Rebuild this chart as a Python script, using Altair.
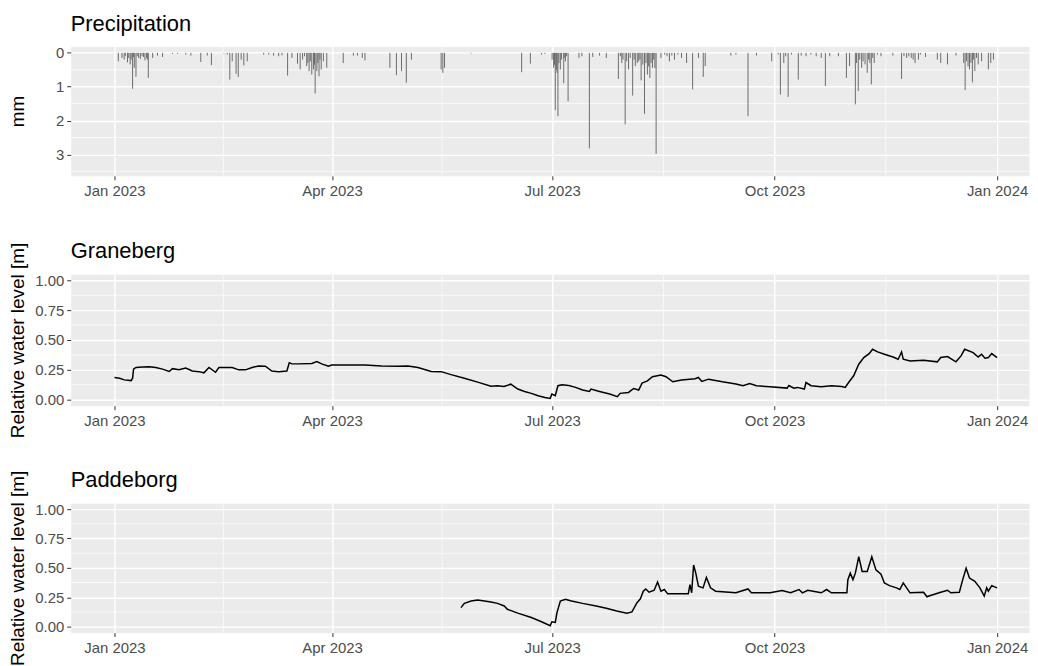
import altair as alt
import pandas as pd

# ---------------- data (days after 2023-01-01) ----------------
prec_day = [1.6, 3.1, 4.0, 4.5, 5.4, 5.9, 6.5, 6.9, 7.5, 7.9, 8.2, 8.9, 9.4, 10.0, 10.7, 11.4, 12.0, 12.6,
            13.3, 13.6, 14.0, 15.8, 17.8, 19.9, 24.0, 26.1, 29.5, 31.6, 35.7, 38.4, 40.1, 45.3, 46.6, 47.7,
            48.7, 50.3, 51.2, 52.4, 53.5, 54.9, 61.7, 63.8, 65.8, 67.9, 69.3, 71.6, 73.4, 75.7, 76.8, 77.8,
            78.6, 79.5, 80.0, 80.5, 81.0, 81.6, 82.3, 82.7, 83.0, 83.7, 84.1, 84.6, 85.0, 85.5, 86.4, 87.8,
            94.6, 98.8, 100.5, 102.5, 103.6, 113.9, 116.6, 118.7, 120.7, 122.8, 135.1, 135.8, 136.5, 147.5,
            168.4, 172.0, 176.6, 178.0, 181.0, 181.6, 182.0, 182.3, 182.7, 183.0, 183.4, 183.8, 184.4, 184.9,
            185.8, 186.0, 186.5, 187.0, 187.6, 192.1, 193.3, 196.4, 197.8, 200.6, 203.4, 208.4, 209.2, 209.8,
            210.3, 211.2, 211.8, 212.6, 213.3, 214.3, 214.9, 215.4, 216.2, 216.8, 217.3, 217.8, 218.5, 219.2,
            219.8, 220.4, 220.9, 221.4, 221.9, 222.5, 223.0, 223.5, 224.0, 226.0, 227.5, 228.5, 229.5, 230.5,
            231.6, 233.0, 234.5, 236.6, 239.1, 241.5, 243.5, 244.3, 254.9, 257.0, 262.0, 265.5, 271.8, 274.5,
            275.4, 276.8, 277.6, 278.6, 280.0, 282.8, 284.0, 286.0, 288.0, 290.2, 292.3, 294.0, 295.8, 299.4,
            302.7, 304.0, 306.4, 306.9, 307.6, 308.2, 309.0, 309.6, 310.4, 311.3, 311.9, 312.4, 313.0, 313.6,
            314.2, 315.5, 317.0, 321.9, 325.5, 326.5, 327.6, 328.5, 329.5, 330.3, 331.1, 332.5, 333.3, 335.4,
            340.3, 341.7, 344.5, 348.0, 351.2, 351.8, 352.4, 353.0, 353.6, 354.2, 354.8, 355.2, 355.8, 356.5,
            357.2, 358.6, 361.4, 362.4, 363.5]
prec_mm = [0.25, 0.15, 0.20, 0.10, 0.28, 0.15, 0.34, 0.20, 1.06, 0.12, 0.44, 0.71, 0.10, 0.15, 0.18, 0.10, 0.12, 0.22,
           0.15, 0.20, 0.74, 0.15, 0.08, 0.12, 0.03, 0.03, 0.05, 0.08, 0.27, 0.08, 0.36, 0.02, 0.05, 0.79,
           0.25, 0.62, 0.71, 0.20, 0.37, 0.25, 0.05, 0.05, 0.08, 0.10, 0.07, 0.67, 0.15, 0.32, 0.49, 0.20,
           0.10, 0.39, 0.30, 0.54, 0.25, 0.64, 0.49, 0.35, 1.20, 0.54, 0.30, 0.69, 0.20, 0.49, 0.25, 0.44,
           0.30, 0.08, 0.08, 0.15, 0.22, 0.44, 0.66, 0.54, 0.88, 0.20, 0.49, 0.59, 0.44, 0.02,
           0.57, 0.32, 0.05, 0.03, 0.20, 0.44, 0.35, 1.69, 0.50, 0.59, 1.87, 0.30, 0.49, 0.20,
           0.90, 0.15, 0.25, 0.10, 1.43, 0.15, 0.10, 2.82, 0.12, 0.08, 0.15, 0.77, 0.10, 0.30,
           0.20, 2.11, 0.25, 0.49, 0.15, 1.26, 0.20, 0.39, 0.30, 0.25, 0.20, 0.81, 0.35, 1.80,
           0.30, 0.64, 0.40, 0.74, 0.30, 0.44, 0.20, 0.45, 2.98, 0.15, 0.05, 0.10, 0.25, 0.08,
           0.20, 0.05, 0.15, 0.30, 1.08, 0.15, 0.71, 0.39, 0.08, 0.05, 1.87, 0.08, 0.25, 0.05,
           1.23, 0.30, 0.10, 1.30, 0.05, 0.79, 0.08, 0.10, 0.05, 0.10, 0.15, 0.98, 0.10, 0.10,
           0.74, 0.39, 1.52, 0.30, 1.13, 0.20, 0.44, 0.25, 0.34, 0.59, 0.20, 0.30, 0.93, 0.15,
           0.30, 0.05, 0.10, 0.08, 0.77, 0.10, 0.15, 0.10, 0.15, 0.20, 0.30, 0.20, 0.05, 0.12,
           0.20, 0.30, 0.34, 0.08, 0.30, 1.10, 0.25, 0.40, 0.49, 0.30, 0.87, 0.20, 0.54, 0.15,
           0.34, 0.25, 0.49, 0.30, 0.20]

gran_day = [0.0, 2.1, 4.1, 6.9, 7.5, 7.9, 8.9, 11.7, 14.4, 17.1, 19.9, 22.6, 24.0, 26.7, 29.5, 32.2, 35.0,
            37.0, 39.1, 41.8, 43.2, 46.0, 48.7, 51.4, 54.2, 56.9, 59.7, 62.4, 65.1, 67.9, 71.3, 72.3, 73.4,
            76.1, 81.6, 83.7, 85.7, 88.5, 89.8, 96.7, 103.6, 110.4, 117.3, 121.4, 125.5, 131.0, 135.1, 139.2,
            144.7, 150.2, 155.7, 158.4, 161.1, 163.9, 166.8, 169.6, 172.4, 175.2, 178.0, 180.2, 180.9, 182.3,
            183.4, 185.1, 187.9, 190.7, 193.6, 196.4, 197.1, 200.6, 204.8, 208.0, 209.1, 212.6, 214.7, 216.8,
            218.2, 220.4, 222.5, 226.0, 228.1, 230.9, 234.5, 240.1, 241.5, 242.9, 245.7, 251.4, 257.0, 259.9,
            262.7, 265.5, 271.1, 278.2, 278.9, 281.0, 282.4, 285.3, 286.0, 288.1, 292.3, 296.5, 300.8, 302.2,
            303.6, 305.7, 307.8, 309.9, 312.1, 313.5, 315.6, 318.4, 322.0, 324.1, 325.5, 326.2, 329.0, 334.6,
            340.3, 341.7, 344.5, 348.0, 350.1, 351.6, 355.1, 357.2, 358.6, 360.0, 361.4, 362.8, 365.0]
gran_lvl = [0.186, 0.180, 0.166, 0.160, 0.180, 0.256, 0.270, 0.273, 0.276, 0.270, 0.256, 0.236, 0.260, 0.250,
            0.265, 0.240, 0.235, 0.225, 0.270, 0.230, 0.270, 0.270, 0.270, 0.250, 0.250, 0.270, 0.283, 0.280,
            0.240, 0.235, 0.240, 0.310, 0.300, 0.300, 0.303, 0.320, 0.300, 0.280, 0.290, 0.290, 0.290, 0.283,
            0.280, 0.283, 0.270, 0.236, 0.235, 0.210, 0.180, 0.147, 0.113, 0.117, 0.111, 0.130, 0.089, 0.069,
            0.053, 0.033, 0.019, 0.011, 0.047, 0.033, 0.117, 0.125, 0.119, 0.103, 0.081, 0.069, 0.089, 0.069,
            0.047, 0.025, 0.053, 0.061, 0.094, 0.081, 0.139, 0.158, 0.192, 0.206, 0.192, 0.150, 0.164, 0.175,
            0.186, 0.153, 0.172, 0.150, 0.131, 0.117, 0.136, 0.117, 0.108, 0.097, 0.119, 0.097, 0.103, 0.089,
            0.144, 0.117, 0.108, 0.117, 0.111, 0.103, 0.144, 0.200, 0.297, 0.353, 0.386, 0.422, 0.400, 0.381,
            0.358, 0.339, 0.400, 0.339, 0.325, 0.331, 0.317, 0.353, 0.361, 0.317, 0.367, 0.422, 0.394, 0.358,
            0.381, 0.347, 0.353, 0.386, 0.353]

padd_day = [143.3, 144.7, 147.5, 150.2, 153.0, 155.7, 158.4, 161.2, 162.5, 166.8, 172.4, 176.6, 180.2, 180.9,
            182.3, 183.0, 184.4, 186.5, 188.6, 193.6, 199.2, 203.4, 207.7, 211.9, 214.0, 216.1, 217.5, 218.7,
            219.7, 221.1, 223.2, 224.6, 226.0, 227.4, 228.8, 237.3, 238.0, 238.7, 239.5, 240.4, 241.5, 243.4,
            244.8, 246.5, 248.6, 257.0, 262.0, 263.4, 271.1, 276.1, 279.6, 283.1, 284.5, 286.7, 292.3, 294.5,
            296.5, 302.9, 303.3, 304.3, 305.4, 306.4, 307.8, 309.2, 311.3, 313.2, 314.9, 317.0, 318.4, 320.5,
            323.4, 324.8, 326.2, 327.6, 329.0, 334.6, 336.0, 337.4, 338.8, 341.7, 344.5, 345.9, 349.4, 350.8,
            352.2, 353.6, 355.8, 357.9, 359.7, 360.7, 361.4, 362.8, 365.0]
padd_lvl = [0.162, 0.198, 0.218, 0.226, 0.218, 0.210, 0.198, 0.176, 0.148, 0.115, 0.078, 0.042, 0.008, 0.042,
            0.036, 0.120, 0.218, 0.232, 0.221, 0.198, 0.176, 0.156, 0.134, 0.115, 0.126, 0.204, 0.237, 0.302,
            0.321, 0.293, 0.310, 0.380, 0.302, 0.316, 0.279, 0.279, 0.358, 0.288, 0.525, 0.455, 0.344, 0.330,
            0.419, 0.330, 0.302, 0.288, 0.321, 0.288, 0.288, 0.307, 0.288, 0.316, 0.288, 0.310, 0.288, 0.316,
            0.288, 0.288, 0.400, 0.455, 0.400, 0.455, 0.595, 0.469, 0.469, 0.595, 0.483, 0.447, 0.372, 0.349,
            0.330, 0.316, 0.372, 0.330, 0.288, 0.293, 0.254, 0.265, 0.274, 0.293, 0.310, 0.288, 0.293, 0.400,
            0.497, 0.413, 0.385, 0.330, 0.260, 0.330, 0.302, 0.349, 0.330]

panel_names = ["Precipitation", "Graneberg", "Paddeborg"]
y_titles = ["mm", "Relative water level [m]", "Relative water level [m]"]
major_x = ["2023-01-01", "2023-04-01", "2023-07-01", "2023-10-01", "2024-01-01"]
minor_x = ["2023-02-15T00:00", "2023-05-16T12:00", "2023-08-16T00:00", "2023-11-16T00:00"]
prec_major_y = [0, 1, 2, 3]
prec_minor_y = [0.5, 1.5, 2.5, 3.5]
lvl_major_y = [0, 0.25, 0.5, 0.75, 1.0]
lvl_minor_y = [0.125, 0.375, 0.625, 0.875]

origin = pd.Timestamp("2023-01-01")
def to_dates(days):
    return [origin + pd.Timedelta(days=d) for d in days]

prec_df = pd.DataFrame({"date": to_dates(prec_day), "mm": prec_mm})
gran_df = pd.DataFrame({"date": to_dates(gran_day), "lvl": gran_lvl})
padd_df = pd.DataFrame({"date": to_dates(padd_day), "lvl": padd_lvl})

FONT = "Liberation Sans"
W = 963
x_domain = [alt.DateTime(year=2022, month=12, date=13, hours=21, minutes=40),
            alt.DateTime(year=2024, month=1, date=14, hours=5)]
x_values = [alt.DateTime(year=int(s[:4]), month=int(s[5:7]), date=int(s[8:10])) for s in major_x]
x_scale = alt.Scale(domain=x_domain)
x_axis = alt.Axis(title=None, values=x_values, format="%b %Y", labelFlush=False, labelOverlap=False)

def y_axis(title, values, fmt, h):
    return alt.Axis(title=title, values=values, format=fmt, labelOverlap=False, labelFlush=False,
                    titleX=-47, titleY=h / 2,
                    titleAngle=270, titleBaseline="alphabetic", titleAlign="center",
                    titleFontSize=19, titleFontWeight="normal", titleColor="black", titleFont=FONT)

def minor_layers(minor_y, yscale, yaxis):
    mx = alt.Chart(pd.DataFrame({"d": pd.to_datetime(minor_x, format="ISO8601")})).mark_rule(
        color="white", strokeWidth=0.7).encode(x=alt.X("d:T", scale=x_scale, axis=x_axis))
    my = alt.Chart(pd.DataFrame({"v": minor_y})).mark_rule(
        color="white", strokeWidth=0.7).encode(y=alt.Y("v:Q", scale=yscale, axis=yaxis))
    return mx, my

def title_layer(name):
    return alt.Chart(pd.DataFrame({"t": [name]})).mark_text(
        align="left", baseline="alphabetic", fontSize=22, font=FONT, color="black"
    ).encode(x=alt.value(0), y=alt.value(-16), text="t:N")

# precipitation
H1 = 130
y1 = alt.Scale(domain=[-0.19, 3.63], reverse=True, nice=False, zero=False)
ax1 = y_axis(y_titles[0], prec_major_y, "d", H1)
mx1, my1 = minor_layers(prec_minor_y, y1, ax1)
bars = alt.Chart(prec_df).mark_rule(color="#555555", strokeWidth=1, opacity=0.85).encode(
    x=alt.X("date:T", scale=x_scale, axis=x_axis),
    y=alt.Y("mm:Q", scale=y1, axis=ax1),
    y2=alt.datum(0),
)
p1 = alt.layer(mx1, my1, bars, title_layer(panel_names[0])).properties(width=W, height=H1)

def level_panel(df, name, ytitle, h):
    ys = alt.Scale(domain=[-0.05, 1.05], nice=False, zero=False)
    ax = y_axis(ytitle, lvl_major_y, ".2f", h)
    mx, my = minor_layers(lvl_minor_y, ys, ax)
    line = alt.Chart(df).mark_line(color="black", strokeWidth=1.5).encode(
        x=alt.X("date:T", scale=x_scale, axis=x_axis),
        y=alt.Y("lvl:Q", scale=ys, axis=ax),
    )
    return alt.layer(mx, my, line, title_layer(name)).properties(width=W, height=h)

p2 = level_panel(gran_df, panel_names[1], y_titles[1], 132)
p3 = level_panel(padd_df, panel_names[2], y_titles[2], 130)

chart = alt.vconcat(p1, alt.vconcat(p2, p3, spacing=30), spacing=40).properties(
    padding={"left": 0, "top": 2, "right": 0, "bottom": 0}
).configure_view(fill="#EBEBEB", stroke="transparent").configure_axis(
    domain=False, ticks=True, tickColor="#333333", tickSize=4, tickWidth=1,
    labelFont=FONT, labelFontSize=15, labelColor="#4D4D4D", labelPadding=3,
    grid=True, gridColor="white", gridWidth=1.4,
).configure_axisX(labelPadding=4)

chart.save("out.html", embed_options={"renderer": "svg", "actions": False})
